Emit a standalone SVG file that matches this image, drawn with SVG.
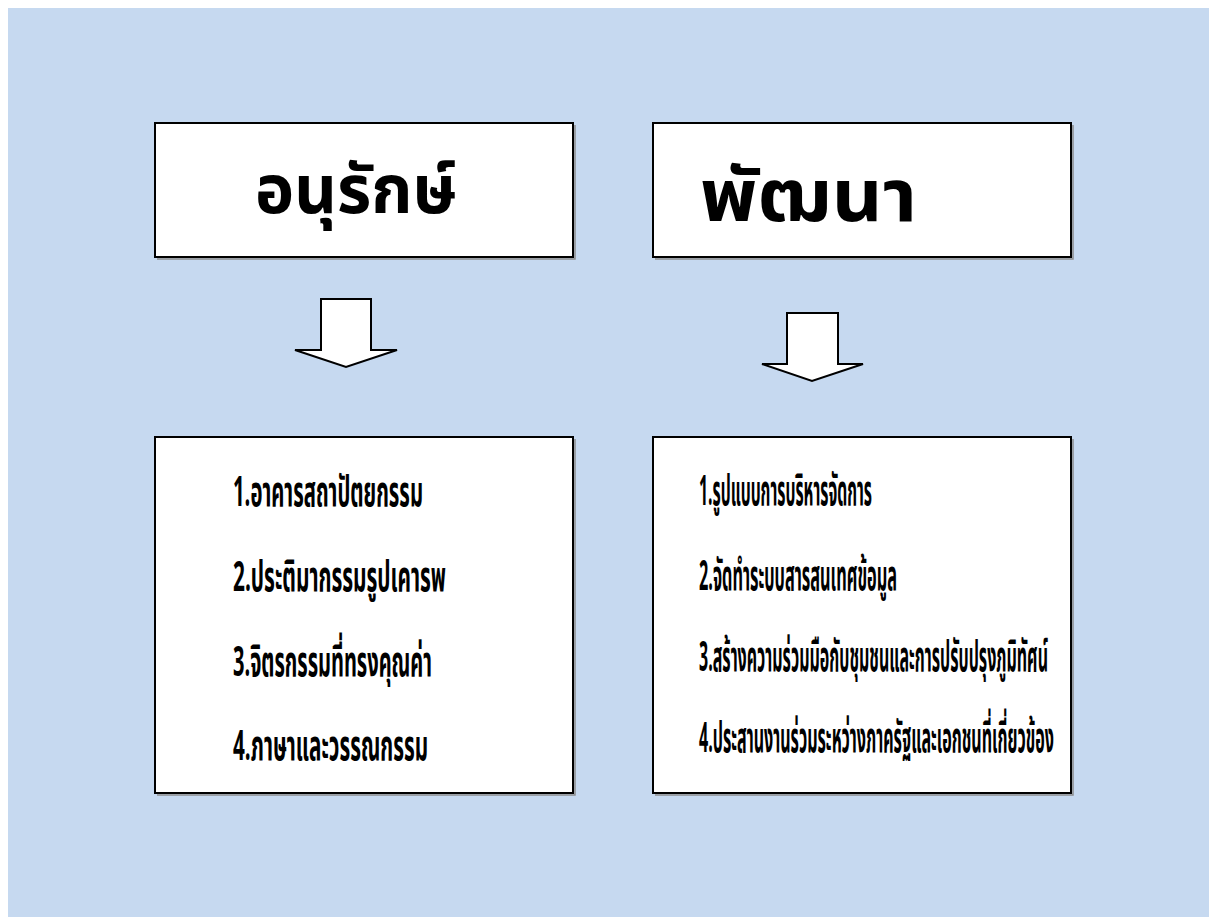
<svg xmlns="http://www.w3.org/2000/svg" width="1209" height="917" viewBox="0 0 1209 917">
<style>
.box{fill:#fff;stroke:#000;stroke-width:2}
.shadow{fill:none;stroke:#8c8c8c;stroke-width:1.5}
.arrow{fill:#fff;stroke:#000;stroke-width:2;stroke-linejoin:miter}
.title{font-family:"Noto Sans Thai","Noto Sans","DejaVu Sans",sans-serif;font-weight:bold;fill:#000}
.item{font-family:"Noto Sans Thai","Noto Sans","DejaVu Sans",sans-serif;font-weight:bold;font-size:42px;fill:#000}
</style>
<rect x="0" y="0" width="1209" height="917" fill="#fff"/>
<rect x="8" y="8" width="1201" height="909" fill="#c6d9f0"/>
<g id="node-conserve">
<path class="shadow" d="M575 125 V259 H157"/>
<rect class="box" x="155" y="123" width="418" height="134"/>
<text class="title" x="356" y="213" font-size="68" text-anchor="middle" textLength="202" lengthAdjust="spacingAndGlyphs">อนุรักษ์</text>
</g>
<g id="node-develop">
<path class="shadow" d="M1073 125 V259 H655"/>
<rect class="box" x="653" y="123" width="418" height="134"/>
<text class="title" x="700" y="221" font-size="72" textLength="217" lengthAdjust="spacingAndGlyphs">พัฒนา</text>
</g>
<g id="connectors">
<polygon class="arrow" points="321,299 371,299 371,350 397,350 346,367 295,350 321,350"/>
<polygon class="arrow" points="787,313 838,313 838,364 863,364 812,381 762,364 787,364"/>
</g>
<g id="node-conserve-list">
<path class="shadow" d="M575 439 V795 H157"/>
<rect class="box" x="155" y="437" width="418" height="356"/>
<text class="item" transform="translate(233,506) scale(0.385,1)" textLength="493.5" lengthAdjust="spacingAndGlyphs">1.อาคารสถาปัตยกรรม</text>
<text class="item" transform="translate(233,591) scale(0.385,1)" textLength="553.2" lengthAdjust="spacingAndGlyphs">2.ประติมากรรมรูปเคารพ</text>
<text class="item" transform="translate(233,676) scale(0.385,1)" textLength="516.9" lengthAdjust="spacingAndGlyphs">3.จิตรกรรมที่ทรงคุณค่า</text>
<text class="item" transform="translate(233,760) scale(0.385,1)" textLength="506.5" lengthAdjust="spacingAndGlyphs">4.ภาษาและวรรณกรรม</text>
</g>
<g id="node-develop-list">
<path class="shadow" d="M1073 439 V795 H655"/>
<rect class="box" x="653" y="437" width="418" height="356"/>
<text class="item" transform="translate(699,505) scale(0.385,1)" textLength="449.4" lengthAdjust="spacingAndGlyphs">1.รูปแบบการบริหารจัดการ</text>
<text class="item" transform="translate(699,590) scale(0.385,1)" textLength="514.3" lengthAdjust="spacingAndGlyphs">2.จัดทำระบบสารสนเทศข้อมูล</text>
<text class="item" transform="translate(699,671) scale(0.385,1)" textLength="906.5" lengthAdjust="spacingAndGlyphs">3.สร้างความร่วมมือกับชุมชนและการปรับปรุงภูมิทัศน์</text>
<text class="item" transform="translate(699,752) scale(0.385,1)" textLength="922.1" lengthAdjust="spacingAndGlyphs">4.ประสานงานร่วมระหว่างภาครัฐและเอกชนที่เกี่ยวข้อง</text>
</g>
</svg>
